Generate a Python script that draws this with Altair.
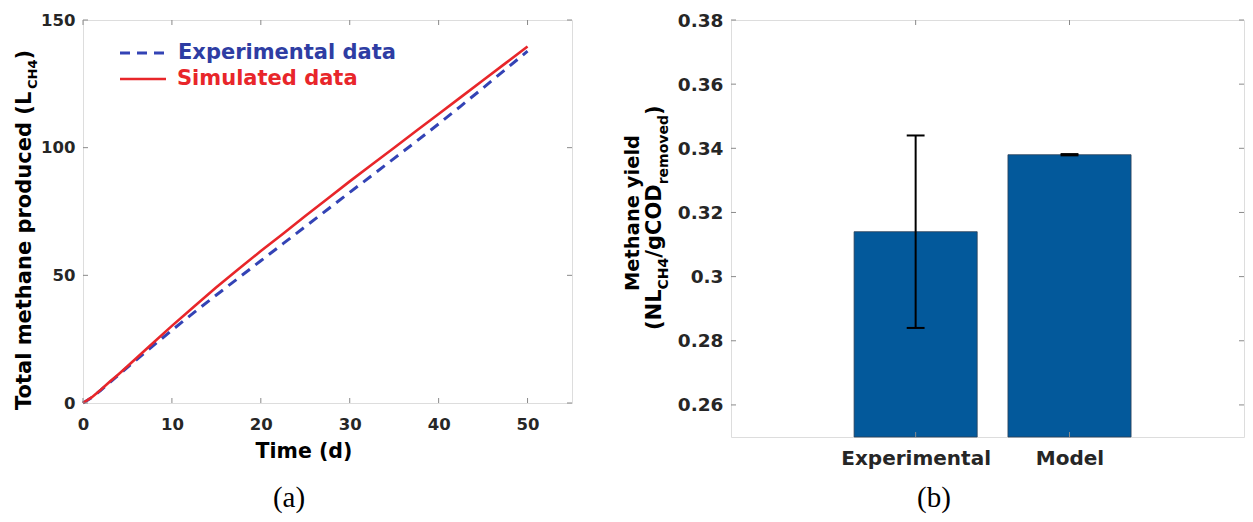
import altair as alt
import pandas as pd

# ---------------- data ----------------
time_days = [0, 1, 2, 3, 4, 5, 7.5, 10, 12.5, 15, 17.5, 20, 22.5, 25, 27.5, 30,
             32.5, 35, 37.5, 40, 42.5, 45, 47.5, 50]
simulated = [0, 2.3, 5.2, 8.3, 11.3, 14.4, 22.3, 30.2, 37.8, 45.3, 52.5, 59.5, 66.3,
             73.2, 80.0, 86.8, 93.4, 100.0, 106.6, 113.2, 119.8, 126.4, 133.0, 139.6]
experimental = [0, 2.2, 5.0, 8.0, 11.0, 14.0, 21.3, 28.5, 35.5, 42.3, 49.0, 55.7, 62.4,
                69.1, 75.8, 82.5, 89.1, 95.8, 102.5, 109.3, 116.3, 123.4, 130.6, 137.8]
x_ticks = [0, 10, 20, 30, 40, 50]
y_ticks = [0, 50, 100, 150]
legend_labels = ["Experimental data", "Simulated data"]

bar_categories = ["Experimental", "Model"]
bar_positions = [1, 2]
bar_values = [0.314, 0.338]
err_low = [0.284, 0.3378]
err_high = [0.344, 0.3382]
yield_ticks = [0.26, 0.28, 0.30, 0.32, 0.34, 0.36, 0.38]

# ---------------- styles ----------------
FONT = "DejaVu Sans"
SERIF = "Liberation Serif"
BLUE = "#3343B5"
BLUE_TXT = "#2E3DA3"
RED = "#E8262A"
BOX = "#8a8a8a"
TICKC = "#262626"
BAR = "#03599B"

W = {' ': .348, '(': .457, ')': .457, '/': .365, 'C': .734, 'D': .830, 'H': .837,
     'L': .637, 'M': .995, 'N': .837, 'O': .850, 'T': .682, '4': .696,
     'a': .675, 'c': .593, 'd': .716, 'e': .678, 'g': .716, 'h': .712, 'i': .343,
     'l': .343, 'm': 1.042, 'n': .712, 'o': .687, 'p': .716, 'r': .493, 't': .478,
     'u': .712, 'v': .652, 'y': .652}


def tw(s, size):
    return sum(W.get(c, .65) for c in s) * size


one = pd.DataFrame({"a": [0]})


def vtext(pieces, x0, y_start):
    """rotated (bottom-to-top) text built from pieces (text, size, dx)."""
    layers = []
    cur = y_start
    for txt, size, dx in pieces:
        layers.append(
            alt.Chart(one).mark_text(
                text=txt, angle=270, align="left", baseline="middle",
                font=FONT, fontWeight="bold", fontSize=size, color="black"
            ).encode(x=alt.value(x0 + dx), y=alt.value(cur))
        )
        cur -= tw(txt, size)
    return layers


# ---------------- left panel ----------------
W1, H1 = 489, 383
xs = alt.Scale(domain=[0, 55], nice=False, zero=False)
ys = alt.Scale(domain=[0, 150], nice=False)
x_axis = alt.Axis(values=x_ticks, title=None, grid=False, domain=False, ticks=False,
                  tickSize=0, labelPadding=13, labelFlush=False, labelFont=FONT,
                  labelFontWeight="bold", labelFontSize=16.5, labelColor=TICKC)
y_axis = alt.Axis(values=y_ticks, title=None, grid=False, domain=False, ticks=False,
                  tickSize=0, labelPadding=8, labelFlush=False, labelFont=FONT,
                  labelFontWeight="bold", labelFontSize=16.5, labelColor=TICKC)

line_df = pd.DataFrame({"t": time_days, "sim": simulated, "exp": experimental})

exp_line = alt.Chart(line_df).mark_line(color=BLUE, strokeWidth=3, strokeDash=[10, 7]).encode(
    x=alt.X("t:Q", scale=xs, axis=x_axis), y=alt.Y("exp:Q", scale=ys, axis=y_axis))
sim_line = alt.Chart(line_df).mark_line(color=RED, strokeWidth=2.6).encode(
    x=alt.X("t:Q", scale=xs, axis=x_axis), y=alt.Y("sim:Q", scale=ys, axis=y_axis))

xt = pd.DataFrame({"t": x_ticks})
yt = pd.DataFrame({"v": y_ticks})
left_ticks = [
    alt.Chart(xt).mark_rule(color=BOX).encode(
        x=alt.X("t:Q", scale=xs, axis=x_axis), y=alt.value(H1), y2=alt.value(H1 - 5)),
    alt.Chart(xt).mark_rule(color=BOX).encode(
        x=alt.X("t:Q", scale=xs, axis=x_axis), y=alt.value(0), y2=alt.value(5)),
    alt.Chart(yt).mark_rule(color=BOX).encode(
        y=alt.Y("v:Q", scale=ys, axis=y_axis), x=alt.value(0), x2=alt.value(5)),
    alt.Chart(yt).mark_rule(color=BOX).encode(
        y=alt.Y("v:Q", scale=ys, axis=y_axis), x=alt.value(W1), x2=alt.value(W1 - 5)),
]

leg_df0 = pd.DataFrame({"label": [legend_labels[0]]})
leg_df1 = pd.DataFrame({"label": [legend_labels[1]]})
legend = [
    alt.Chart(leg_df0).mark_rule(color=BLUE, strokeWidth=3, strokeDash=[10, 7]).encode(
        x=alt.value(37), x2=alt.value(83), y=alt.value(33)),
    alt.Chart(leg_df1).mark_rule(color=RED, strokeWidth=2.6).encode(
        x=alt.value(37), x2=alt.value(83), y=alt.value(59)),
    alt.Chart(leg_df0).mark_text(align="left", baseline="middle", font=FONT,
                                 fontWeight="bold", fontSize=21, color=BLUE_TXT).encode(
        text="label:N", x=alt.value(95), y=alt.value(33)),
    alt.Chart(leg_df1).mark_text(align="left", baseline="middle", font=FONT,
                                 fontWeight="bold", fontSize=21, color=RED).encode(
        text="label:N", x=alt.value(94), y=alt.value(59)),
]

left_titles = vtext([("Total methane produced (L", 21, 0), ("CH4", 13, 8), (")", 21, 0)],
                    -58, 390)
left_titles.append(
    alt.Chart(one).mark_text(text="Time (d)", align="center", baseline="middle", font=FONT,
                             fontWeight="bold", fontSize=20.5, color="black").encode(
        x=alt.value(221), y=alt.value(432)))
left_titles.append(
    alt.Chart(one).mark_text(text="(a)", align="center", baseline="middle", font=SERIF,
                             fontSize=29, color="black").encode(
        x=alt.value(206), y=alt.value(478)))
anchor = alt.Chart(one).mark_rule(opacity=0, strokeWidth=1).encode(
    x=alt.value(-74.5), x2=alt.value(-73.5), y=alt.value(-11.5))

left = alt.layer(exp_line, sim_line, *left_ticks, *legend, *left_titles, anchor).properties(
    width=W1, height=H1)

# ---------------- right panel ----------------
W2, H2 = 513, 417
bxs = alt.Scale(domain=[-0.2, 3.134], nice=False, zero=False)
bys = alt.Scale(domain=[0.25, 0.38], nice=False, zero=False)
label_expr = " : ".join(
    f"datum.value == {p} ? '{c}'" for p, c in zip(bar_positions, bar_categories)) + " : ''"
bx_axis = alt.Axis(values=bar_positions, labelExpr=label_expr, title=None, grid=False,
                   domain=False, ticks=False, tickSize=0, labelPadding=11, labelFont=FONT,
                   labelFontWeight="bold", labelFontSize=20, labelColor=TICKC)
by_axis = alt.Axis(values=yield_ticks, format=".2~f", title=None, grid=False, domain=False,
                   ticks=False, tickSize=0, labelPadding=8, labelFlush=False, labelFont=FONT,
                   labelFontWeight="bold", labelFontSize=18.5, labelColor=TICKC)

bar_df = pd.DataFrame({"pos": bar_positions, "cat": bar_categories, "val": bar_values,
                       "lo": err_low, "hi": err_high})

bars = alt.Chart(bar_df).transform_calculate(
    x0="datum.pos - 0.4", x1="datum.pos + 0.4"
).mark_bar(color=BAR, stroke="#2b3f55", strokeWidth=0.8).encode(
    x=alt.X("x0:Q", scale=bxs, axis=bx_axis), x2="x1:Q",
    y=alt.Y("val:Q", scale=bys, axis=by_axis), y2=alt.value(H2))

err = alt.Chart(bar_df).mark_rule(color="black", strokeWidth=2).encode(
    x=alt.X("pos:Q", scale=bxs, axis=bx_axis),
    y=alt.Y("lo:Q", scale=bys, axis=by_axis), y2="hi:Q")
cap_hi = alt.Chart(bar_df).transform_calculate(
    c0="datum.pos - 0.058", c1="datum.pos + 0.058"
).mark_rule(color="black", strokeWidth=2).encode(
    x=alt.X("c0:Q", scale=bxs, axis=bx_axis), x2="c1:Q",
    y=alt.Y("hi:Q", scale=bys, axis=by_axis))
cap_lo = alt.Chart(bar_df).transform_calculate(
    c0="datum.pos - 0.058", c1="datum.pos + 0.058"
).mark_rule(color="black", strokeWidth=2).encode(
    x=alt.X("c0:Q", scale=bxs, axis=bx_axis), x2="c1:Q",
    y=alt.Y("lo:Q", scale=bys, axis=by_axis))

bxt = pd.DataFrame({"p": bar_positions})
byt = pd.DataFrame({"v": yield_ticks})
right_ticks = [
    alt.Chart(bxt).mark_rule(color=BOX).encode(
        x=alt.X("p:Q", scale=bxs, axis=bx_axis), y=alt.value(H2), y2=alt.value(H2 - 5)),
    alt.Chart(bxt).mark_rule(color=BOX).encode(
        x=alt.X("p:Q", scale=bxs, axis=bx_axis), y=alt.value(0), y2=alt.value(5)),
    alt.Chart(byt).mark_rule(color=BOX).encode(
        y=alt.Y("v:Q", scale=bys, axis=by_axis), x=alt.value(0), x2=alt.value(5)),
    alt.Chart(byt).mark_rule(color=BOX).encode(
        y=alt.Y("v:Q", scale=bys, axis=by_axis), x=alt.value(W2), x2=alt.value(W2 - 5)),
]

right_titles = [
    alt.Chart(one).mark_text(text="Methane yield", angle=270, align="center",
                             baseline="middle", font=FONT, fontWeight="bold",
                             fontSize=19.5, color="black").encode(
        x=alt.value(-98.5), y=alt.value(193))
]
right_titles += vtext([("(NL", 21, 0), ("CH4", 14, 9), ("/gCOD", 21, 0),
                       ("removed", 14, 9), (")", 21, 0)], -76, 310)
right_titles.append(
    alt.Chart(one).mark_text(text="(b)", align="center", baseline="middle", font=SERIF,
                             fontSize=29, color="black").encode(
        x=alt.value(203), y=alt.value(478)))

right = alt.layer(bars, err, cap_hi, cap_lo, *right_ticks, *right_titles).properties(
    width=W2, height=H2)

chart = alt.hconcat(left, right, spacing=159, bounds="flush").properties(
    padding=0
).configure_view(stroke=BOX, strokeWidth=1).configure(background="white")

chart.save("out.html", embed_options={"renderer": "svg", "actions": False})
